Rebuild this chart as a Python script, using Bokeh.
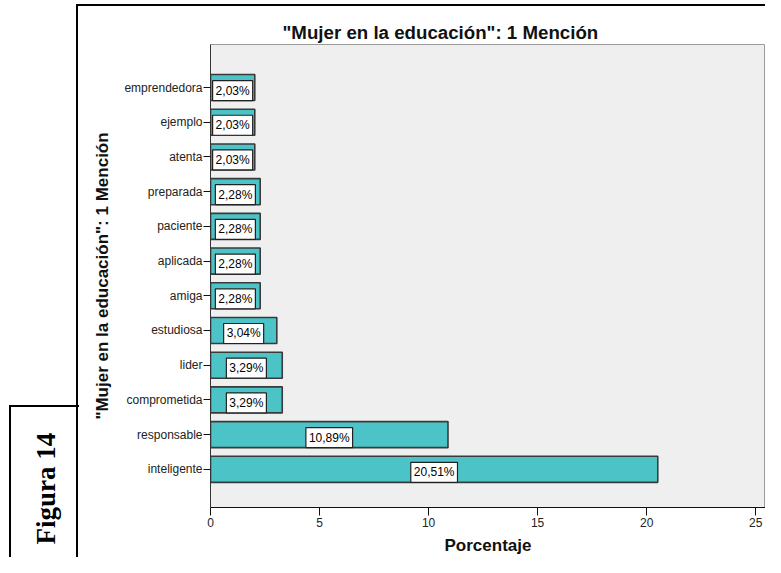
from bokeh.plotting import figure
from bokeh.models import (ColumnDataSource, Range1d, FixedTicker, LinearAxis)
from bokeh.core.properties import value
from bokeh.embed import file_html
from bokeh.resources import INLINE

# ---- data (top to bottom as in the chart) ----
categories = ["emprendedora", "ejemplo", "atenta", "preparada", "paciente",
              "aplicada", "amiga", "estudiosa", "lider", "comprometida",
              "responsable", "inteligente"]
percentages = [2.03, 2.03, 2.03, 2.28, 2.28, 2.28, 2.28, 3.04, 3.29, 3.29,
               10.89, 20.51]
x_ticks = [0, 5, 10, 15, 20, 25]
title_text = '"Mujer en la educación": 1 Mención'
x_label = "Porcentaje"
y_label = '"Mujer en la educación": 1 Mención'
figure_label = "Figura 14"

FONT = "Liberation Sans"

n = len(categories)
ypos = [n - 1 - i for i in range(n)]          # row slot of each category
labels = [("%.2f" % v).replace(".", ",") + "%" for v in percentages]
mids = [v / 2 for v in percentages]
source = ColumnDataSource(dict(y=ypos, cat=categories, pct=percentages,
                               mid=mids, label=labels))

# decorative document frame (outer border + "Figura" box), drawn with CSS
frame_css = {
    "background-image": ", ".join(["linear-gradient(#000,#000)"] * 4),
    "background-size": "2px 700px, 760px 2px, 2px 300px, 70px 2px",
    "background-position": "76px 4px, 76px 4px, 9px 405px, 9px 405px",
    "background-repeat": "no-repeat",
}

p = figure(width=765, height=557, output_backend="svg", toolbar_location=None,
           y_range=Range1d(-1.1, n - 1 + 1.24),
           x_range=Range1d(0, 25.45),
           min_border_left=210, min_border_right=0,
           min_border_top=44, min_border_bottom=50,
           styles=frame_css)

p.background_fill_color = "#EFEFEF"
p.border_fill_alpha = 0
p.outline_line_color = "#9A9A9A"
p.outline_line_width = 1
p.grid.visible = False

# title
p.title.text = title_text
p.title.align = "left"
p.title.offset = 72
p.title.standoff = 3
p.title.text_font = FONT
p.title.text_font_style = "bold"
p.title.text_font_size = "18.7px"
p.title.text_color = "#111111"

p.hbar(y="y", left=0, right="pct", height=0.75, source=source,
       fill_color="#4CC3C6", line_color="#3A3A3A", line_width=1.6)

p.text(x="mid", y="y", text="label", source=source,
       text_align="center", text_baseline="middle",
       text_font=value(FONT), text_font_size="12px", text_color="black",
       y_offset=3, padding=3,
       background_fill_color="white", border_line_color="#222222",
       border_line_width=1.2)

# axes
xa = p.xaxis[0]
xa.ticker = FixedTicker(ticks=x_ticks)
xa.minor_tick_line_color = None
xa.major_tick_out = 8
xa.major_tick_in = 0
xa.major_label_standoff = 2
xa.major_label_text_font = FONT
xa.major_label_text_font_size = "12px"
xa.major_label_text_color = "#222222"
xa.axis_line_color = "#111111"
xa.major_tick_line_color = "#111111"
xa.axis_label = x_label
xa.axis_label_text_font = FONT
xa.axis_label_text_font_style = "bold"
xa.axis_label_text_font_size = "17px"
xa.axis_label_text_color = "#111111"
xa.axis_label_standoff = 6

ya = p.yaxis[0]
ya.ticker = FixedTicker(ticks=ypos)
ya.major_label_overrides = {y: c for y, c in zip(ypos, categories)}
ya.minor_tick_line_color = None
ya.major_tick_out = 7
ya.major_tick_in = 0
ya.major_label_standoff = 1
ya.major_label_text_font = FONT
ya.major_label_text_font_size = "12px"
ya.major_label_text_color = "#222222"
ya.axis_line_color = "#333333"
ya.major_tick_line_color = "#111111"
ya.axis_label = y_label
ya.axis_label_text_font = FONT
ya.axis_label_text_font_style = "bold"
ya.axis_label_text_font_size = "17px"
ya.axis_label_text_color = "#111111"
ya.axis_label_standoff = 9

# "Figura 14" caption as the label of a bare extra axis; trailing spaces
# move the visible words down to the boxed corner of the page
fa = LinearAxis(ticker=FixedTicker(ticks=[]),
                axis_line_color=None, major_tick_line_color=None,
                minor_tick_line_color=None, major_tick_out=0,
                major_label_text_font_size="0px",
                axis_label=figure_label + " " * 63,
                axis_label_text_font="Liberation Serif",
                axis_label_text_font_style="bold",
                axis_label_text_font_size="27px",
                axis_label_text_color="black",
                axis_label_standoff=30)
p.add_layout(fa, "left")

open("out.html", "w").write(file_html(p, INLINE))
